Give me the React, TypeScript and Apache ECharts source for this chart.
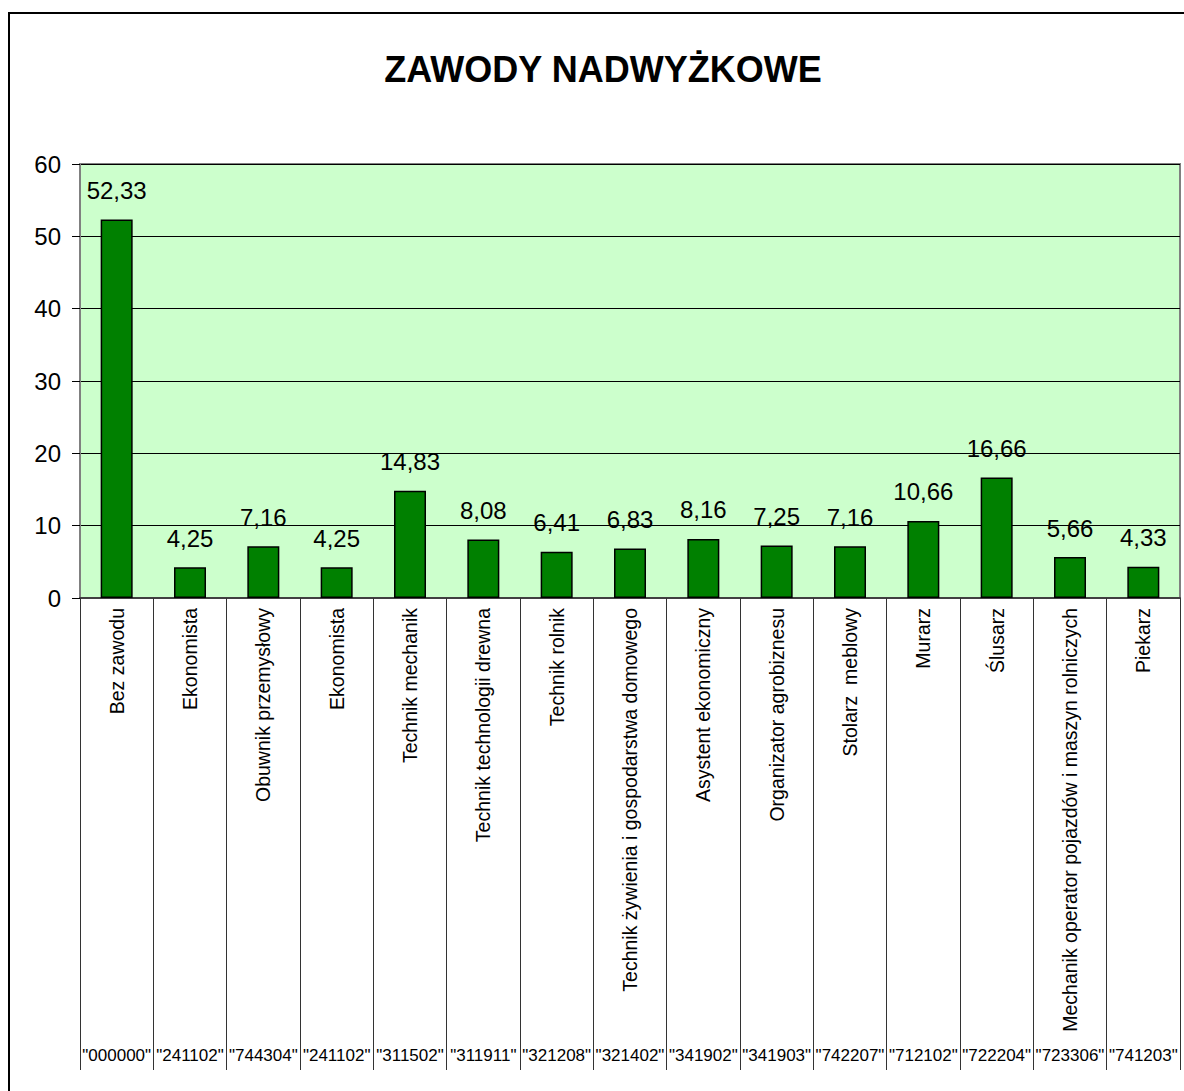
import React, { useEffect, useRef } from "react";
import * as echarts from "echarts";

const categories = [
  "Bez zawodu",
  "Ekonomista",
  "Obuwnik przemysłowy",
  "Ekonomista",
  "Technik mechanik",
  "Technik technologii drewna",
  "Technik rolnik",
  "Technik żywienia i gospodarstwa domowego",
  "Asystent ekonomiczny",
  "Organizator agrobiznesu",
  "Stolarz  meblowy",
  "Murarz",
  "Ślusarz",
  "Mechanik operator pojazdów i maszyn rolniczych",
  "Piekarz",
];

const codes = [
  "\"000000\"",
  "\"241102\"",
  "\"744304\"",
  "\"241102\"",
  "\"311502\"",
  "\"311911\"",
  "\"321208\"",
  "\"321402\"",
  "\"341902\"",
  "\"341903\"",
  "\"742207\"",
  "\"712102\"",
  "\"722204\"",
  "\"723306\"",
  "\"741203\"",
];

const values = [52.33, 4.25, 7.16, 4.25, 14.83, 8.08, 6.41, 6.83, 8.16, 7.25, 7.16, 10.66, 16.66, 5.66, 4.33];

const titleText = "ZAWODY NADWYŻKOWE";
const FONT = "'Liberation Sans', Arial, sans-serif";

export default function App() {
  const ref = useRef<HTMLDivElement>(null);
  useEffect(() => {
    if (!ref.current) return;
    const chart = echarts.init(ref.current, undefined, { renderer: "svg" });
    chart.setOption({
      animation: false,
      backgroundColor: "#ffffff",
      textStyle: { fontFamily: FONT },
      graphic: [
        {
          type: "rect",
          shape: { x: 9, y: 13, width: 1200, height: 1200 },
          style: { fill: "none", stroke: "#000", lineWidth: 2 },
          z: 100,
          silent: true,
        },
        {
          type: "text",
          x: 603,
          y: 69,
          style: {
            text: titleText,
            fontFamily: FONT,
            fontSize: 36,
            fontWeight: "bold",
            fill: "#000",
            textAlign: "center",
            textVerticalAlign: "middle",
          },
        },
      ],
      grid: {
        left: 80,
        top: 164,
        right: 4,
        bottom: 493,
        show: true,
        backgroundColor: "#CCFFCC",
        borderColor: "#808080",
        borderWidth: 2,
      },
      xAxis: [
        {
          type: "category",
          data: categories,
          position: "bottom",
          axisLine: { show: true, lineStyle: { color: "#404040", width: 2 } },
          axisTick: { show: true, interval: 0, length: 472, lineStyle: { color: "#333", width: 1 } },
          axisLabel: {
            interval: 0,
            rotate: 90,
            margin: 10,
            fontSize: 19.5,
            color: "#000",
            fontFamily: FONT,
          },
          splitLine: { show: false },
        },
        {
          type: "category",
          data: codes,
          position: "bottom",
          offset: 440,
          axisLine: { show: false },
          axisTick: { show: false },
          axisLabel: { interval: 0, margin: 9, fontSize: 17, color: "#000", fontFamily: FONT },
        },
      ],
      yAxis: {
        type: "value",
        min: 0,
        max: 60,
        interval: 10,
        axisLine: { show: true, lineStyle: { color: "#808080", width: 2 } },
        axisTick: { show: true, length: 8, lineStyle: { color: "#000" } },
        axisLabel: { fontSize: 24, color: "#000", margin: 19, fontFamily: FONT },
        splitLine: { show: true, lineStyle: { color: "#000", width: 1 } },
      },
      series: [
        {
          type: "bar",
          data: values,
          barWidth: 32,
          itemStyle: { color: "#008000", borderColor: "#000", borderWidth: 1.5 },
          label: {
            show: true,
            position: "top",
            distance: 17,
            fontSize: 24,
            color: "#000",
            fontFamily: FONT,
            formatter: (p: any) => Number(p.value).toFixed(2).replace(".", ","),
          },
        },
      ],
    });
    return () => chart.dispose();
  }, []);
  return (
    <div
      ref={ref}
      style={{ position: "absolute", left: 0, top: 0, width: 1184, height: 1091 }}
    />
  );
}
